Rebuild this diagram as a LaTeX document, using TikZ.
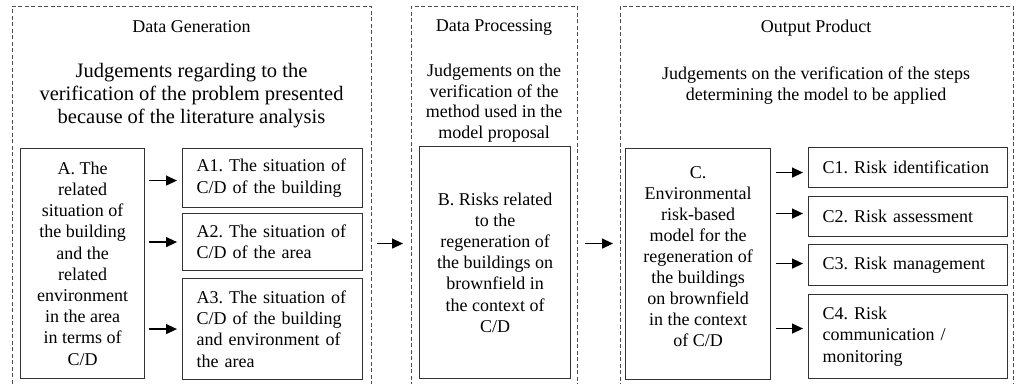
\documentclass[tikz,border=0pt]{standalone}
\usepackage{fontspec}
\setmainfont{Liberation Serif}
\usetikzlibrary{arrows.meta}
\frenchspacing
\begin{document}
\begin{tikzpicture}[x=1pt,y=-1pt,
  frame/.style={draw=black!70, dash pattern=on 4pt off 2.5pt, line width=0.9pt, inner sep=0pt, anchor=north west},
  cbox/.style={draw=black!80, line width=1.1pt, align=center, inner sep=0pt, anchor=north west, text=black, font=\fontsize{18}{21.2}\selectfont},
  lbox/.style={draw=black!80, line width=1.1pt, align=left, inner xsep=14pt, inner ysep=0pt, anchor=north west, text=black, font=\fontsize{18}{21.2}\selectfont},
  head/.style={inner sep=0pt, text=black, font=\fontsize{18}{21}\selectfont},
  judg/.style={align=center, inner sep=0pt, text=black},
  arr/.style={-{Triangle[length=11pt,width=10pt]}, line width=1.3pt, draw=black}
]
\useasboundingbox (0,0) rectangle (1016,383);
% frames
\node[frame, minimum width=359pt, minimum height=384pt] (G) at (12,6) {};
\node[frame, minimum width=166pt, minimum height=384pt] (P) at (411,6) {};
\node[frame, minimum width=393pt, minimum height=384pt] (O) at (620,6) {};
% headings
\node[head] (Gh) at (191.5,27) {Data Generation};
\node[head] (Ph) at (494,27) {Data Processing};
\node[head] (Oh) at (816,28) {Output Product};
\node[judg, font=\fontsize{20.5}{23}\selectfont] (Gj) at (191.5,96) {Judgements regarding to the\\verification of the problem presented\\because of the literature analysis};
\node[judg, font=\fontsize{18}{20.5}\selectfont] (Pj) at (494,103) {Judgements on the\\verification of the\\method used in the\\model proposal};
\node[judg, font=\fontsize{18}{21}\selectfont] (Oj) at (816,86) {Judgements on the verification of the steps\\determining the model to be applied};
% column A
\node[cbox, minimum width=124pt, minimum height=230pt] (A) at (20,148) {A. The\\related\\situation of\\the building\\and the\\related\\environment\\in the area\\in terms of\\C/D};
\node[lbox, text width=152pt, minimum height=59pt] (A1) at (182,148) {A1. The situation of\\C/D of the building};
\node[lbox, text width=152pt, minimum height=57pt] (A2) at (182,213) {A2. The situation of\\C/D of the area};
\node[lbox, text width=152pt, minimum height=101pt] (A3) at (182,278) {A3. The situation of\\C/D of the building\\and environment of\\the area};
% column B
\node[cbox, minimum width=151pt, minimum height=232pt] (B) at (419,146) {B. Risks related\\to the\\regeneration of\\the buildings on\\brownfield in\\the context of\\C/D};
% column C
\node[cbox, minimum width=145pt, minimum height=231pt] (C) at (625,148) {};
\node[judg, font=\fontsize{18}{21}\selectfont] (Ct) at ([yshift=7pt]C.center) {C.\\Environmental\\risk-based\\model for the\\regeneration of\\the buildings\\on brownfield\\in the context\\of C/D};
\node[lbox, text width=171pt, minimum height=40pt] (C1) at (808,147) {C1. Risk identification};
\node[lbox, text width=171pt, minimum height=40pt] (C2) at (808,196) {C2. Risk assessment};
\node[lbox, text width=171pt, minimum height=41pt] (C3) at (808,244) {C3. Risk management};
\node[lbox, text width=171pt, minimum height=84pt] (C4) at (808,294) {C4. Risk\\communication /\\monitoring};
% arrows A
\draw[arr, shorten <=4pt, shorten >=5pt] ([yshift=-2.5pt]A.east |- A1.west) -- ([yshift=-2.5pt]A1.west);
\draw[arr, shorten <=4pt, shorten >=5pt] (A.east |- A2.west) -- (A2.west);
\draw[arr, shorten <=4pt, shorten >=5pt] (A.east |- A3.west) -- (A3.west);
% arrows between frames
\draw[arr, shorten <=5pt, shorten >=8pt] ([yshift=-1.5pt]G.east |- A2.west) -- ([yshift=-1.5pt]P.west |- A2.west);
\draw[arr, shorten <=7pt, shorten >=7pt] ([yshift=-1.5pt]P.east |- A2.west) -- ([yshift=-1.5pt]O.west |- A2.west);
% arrows C
\draw[arr, shorten <=5pt, shorten >=5pt] ([yshift=-5pt]C.east |- C1.west) -- ([yshift=-5pt]C1.west);
\draw[arr, shorten <=5pt, shorten >=5pt] ([yshift=3pt]C.east |- C2.west) -- ([yshift=3pt]C2.west);
\draw[arr, shorten <=5pt, shorten >=5pt] ([yshift=1.5pt]C.east |- C3.west) -- ([yshift=1.5pt]C3.west);
\draw[arr, shorten <=5pt, shorten >=5pt] ([yshift=8pt]C.east |- C4.west) -- ([yshift=8pt]C4.west);
\end{tikzpicture}
\end{document}
